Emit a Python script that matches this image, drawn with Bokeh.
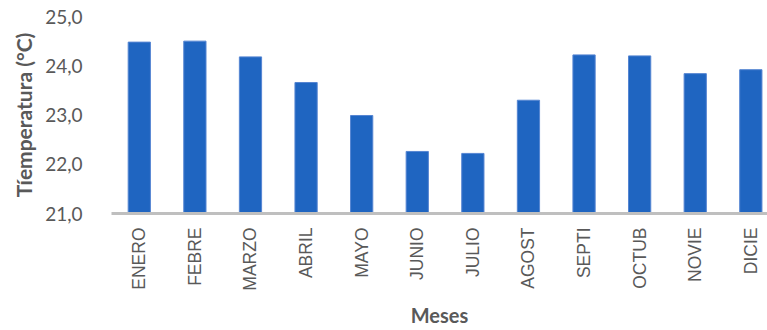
from bokeh.plotting import figure
from bokeh.models import ColumnDataSource, FixedTicker, Range1d
from bokeh.embed import file_html
from bokeh.resources import INLINE

# Monthly mean temperature (°C)
meses = ["ENERO", "FEBRE", "MARZO", "ABRIL", "MAYO", "JUNIO",
         "JULIO", "AGOST", "SEPTI", "OCTUB", "NOVIE", "DICIE"]
temperatura = [24.48, 24.50, 24.18, 23.66, 22.99, 22.26,
               22.22, 23.30, 24.22, 24.20, 23.84, 23.92]
y_ticks = [21.0, 22.0, 23.0, 24.0, 25.0]
y_tick_labels = ["21,0", "22,0", "23,0", "24,0", "25,0"]

pos = list(range(len(meses)))
source = ColumnDataSource(data=dict(x=pos, top=temperatura, mes=meses))

p = figure(width=767, height=330, output_backend="svg", toolbar_location=None,
           x_range=Range1d(-0.5, 11.3), y_range=Range1d(21.0, 25.0),
           min_border_left=111, min_border_right=0,
           min_border_top=16, min_border_bottom=117)
p.outline_line_color = None
p.background_fill_color = "white"
p.border_fill_color = "white"
p.grid.visible = False

p.vbar(x="x", top="top", bottom=21.0, width=0.4, source=source,
       fill_color="#1F65C1", line_color="#5585D2", line_width=1)

# category axis
xa = p.xaxis[0]
xa.ticker = FixedTicker(ticks=pos)
xa.major_label_overrides = {i: m for i, m in zip(pos, meses)}
xa.major_label_orientation = 1.5707963267948966
xa.major_label_text_font = "Liberation Sans"
xa.major_label_text_font_size = "17.5px"
xa.major_label_text_color = "#595959"
xa.major_label_standoff = 8
xa.major_tick_line_color = None
xa.minor_tick_line_color = None
xa.axis_line_color = "#BFBFBF"
xa.axis_line_width = 3
xa.axis_label = "Meses"
xa.axis_label_text_font = "Lato"
xa.axis_label_text_font_style = "bold"
xa.axis_label_text_font_size = "20px"
xa.axis_label_text_color = "#595959"
xa.axis_label_standoff = 9

# value axis
ya = p.yaxis[0]
ya.ticker = FixedTicker(ticks=y_ticks)
ya.major_label_overrides = {t: l for t, l in zip(y_ticks, y_tick_labels)}
ya.major_label_text_font = "Lato"
ya.major_label_text_font_size = "19px"
ya.major_label_text_color = "#595959"
ya.major_label_standoff = 23
ya.major_tick_line_color = None
ya.minor_tick_line_color = None
ya.axis_line_color = None
ya.axis_label = "Tíemperatura (°C)"
ya.axis_label_text_font = "Lato"
ya.axis_label_text_font_style = "bold"
ya.axis_label_text_font_size = "21px"
ya.axis_label_text_color = "#595959"
ya.axis_label_standoff = 6

open("out.html", "w").write(file_html(p, INLINE))
